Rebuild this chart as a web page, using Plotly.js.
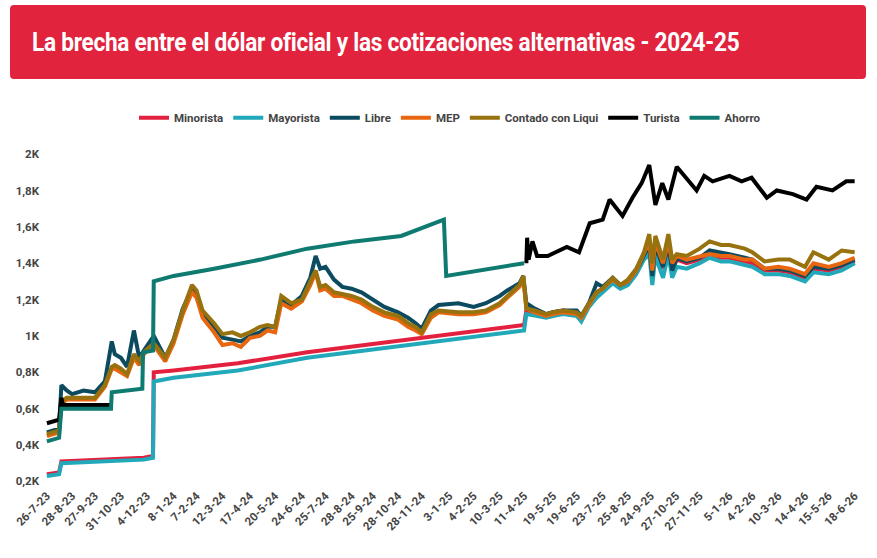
<!DOCTYPE html>
<html>
<head>
<meta charset="utf-8">
<script src="https://cdn.plot.ly/plotly-3.0.1.min.js"></script>
<style>
  body { margin: 0; background: #fff; }
  #banner {
    position: absolute; left: 10px; top: 5px; width: 856px; height: 74px;
    background: #e1233d; border-radius: 4px; z-index: 2;
    font-family: 'Roboto', sans-serif; font-weight: bold;
    color: #fff; font-size: 26px; line-height: 74px; padding-left: 22px; box-sizing: border-box;
    white-space: nowrap; overflow: hidden;
  }
  #banner span { display: inline-block; transform: scaleX(0.87); transform-origin: left center; letter-spacing: -0.3px; }
  #chart { position: absolute; left: 0; top: 0; width: 877px; height: 558px; }
</style>
</head>
<body>
<div id="chart"></div>
<div id="banner"><span>La brecha entre el dólar oficial y las cotizaciones alternativas - 2024-25</span></div>
<script>
// valores en miles de pesos

// Libre, MEP, Contado con Liqui
var fechasPar = ['2023-07-26','2023-08-11','2023-08-14','2023-08-21','2023-08-28','2023-09-12','2023-09-27','2023-10-10','2023-10-19','2023-10-23','2023-10-31','2023-11-08','2023-11-17','2023-11-24','2023-11-30','2023-12-13','2023-12-28',
  '2024-01-08','2024-01-20','2024-02-01','2024-02-07','2024-02-15','2024-03-01','2024-03-12','2024-03-25','2024-04-05','2024-04-17','2024-04-30','2024-05-10','2024-05-20','2024-05-28','2024-06-10','2024-06-24','2024-07-05','2024-07-12','2024-07-18','2024-07-25','2024-08-05','2024-08-16','2024-08-28','2024-09-10','2024-09-25','2024-10-10','2024-10-28','2024-11-10','2024-11-20','2024-11-28','2024-12-10','2024-12-20',
  '2025-01-15','2025-02-04','2025-02-20','2025-03-10','2025-03-20','2025-04-05','2025-04-10','2025-04-14','2025-04-25','2025-05-10','2025-05-19','2025-06-01','2025-06-19','2025-06-25','2025-07-05','2025-07-15','2025-07-23','2025-08-05','2025-08-15','2025-08-25','2025-09-05','2025-09-15','2025-09-22','2025-09-26','2025-09-30','2025-10-10','2025-10-17','2025-10-22','2025-10-28','2025-11-10','2025-11-27','2025-12-10','2025-12-25',
  '2026-01-05','2026-01-25','2026-02-04','2026-02-20','2026-03-10','2026-03-25','2026-04-14','2026-04-25','2026-05-15','2026-06-01','2026-06-18'];
var libre = [.47,.49,.73,.70,.68,.70,.69,.75,.97,.90,.88,.83,1.03,.88,.92,1.00,.88,
  .98,1.15,1.26,1.22,1.12,1.05,.99,.98,.97,1.00,1.02,1.05,1.05,1.20,1.17,1.22,1.32,1.44,1.37,1.38,1.31,1.27,1.26,1.24,1.20,1.16,1.13,1.10,1.07,1.04,1.14,1.17,
  1.18,1.16,1.18,1.22,1.25,1.29,1.33,1.18,1.15,1.12,1.13,1.14,1.14,1.11,1.18,1.29,1.27,1.32,1.28,1.30,1.36,1.45,1.50,1.33,1.50,1.38,1.50,1.36,1.43,1.41,1.43,1.47,1.46,
  1.45,1.43,1.42,1.37,1.37,1.36,1.33,1.38,1.37,1.39,1.42];
var mep = [.45,.47,.63,.65,.65,.65,.65,.72,.82,.82,.80,.78,.88,.84,.90,.95,.86,
  .96,1.12,1.24,1.21,1.10,1.02,.95,.96,.94,.99,1.00,1.03,1.02,1.18,1.15,1.19,1.28,1.35,1.25,1.26,1.22,1.22,1.20,1.18,1.14,1.11,1.09,1.05,1.03,1.01,1.10,1.13,
  1.12,1.12,1.13,1.17,1.21,1.27,1.32,1.15,1.13,1.11,1.12,1.13,1.12,1.10,1.17,1.24,1.26,1.31,1.28,1.30,1.36,1.45,1.52,1.36,1.52,1.40,1.52,1.40,1.44,1.42,1.44,1.45,1.44,
  1.44,1.42,1.42,1.37,1.38,1.37,1.34,1.40,1.38,1.40,1.43];
var ccl = [.46,.48,.64,.66,.66,.66,.66,.73,.83,.84,.82,.79,.90,.86,.91,.96,.88,
  .98,1.14,1.28,1.25,1.14,1.07,1.01,1.02,1.00,1.02,1.05,1.06,1.05,1.22,1.18,1.20,1.30,1.36,1.27,1.28,1.24,1.23,1.22,1.20,1.16,1.13,1.11,1.07,1.05,1.02,1.12,1.14,
  1.13,1.13,1.14,1.18,1.22,1.28,1.33,1.15,1.14,1.12,1.13,1.14,1.13,1.11,1.18,1.24,1.26,1.32,1.28,1.31,1.37,1.46,1.56,1.40,1.55,1.42,1.56,1.42,1.45,1.44,1.48,1.52,1.50,
  1.50,1.48,1.46,1.41,1.42,1.42,1.38,1.46,1.42,1.47,1.46];

// Minorista y Mayorista
var fechasOf = ['2023-07-26','2023-08-11','2023-08-14','2023-10-01','2023-11-30','2023-12-12','2023-12-13','2024-01-08','2024-04-01','2024-07-01','2024-10-01','2025-01-02','2025-04-11',
  '2025-04-14','2025-04-25','2025-05-10','2025-05-19','2025-06-01','2025-06-19','2025-06-25','2025-07-05','2025-07-15','2025-07-23','2025-08-05','2025-08-15','2025-08-25','2025-09-05','2025-09-15','2025-09-22','2025-09-26','2025-09-30','2025-10-10','2025-10-17','2025-10-22','2025-10-28','2025-11-10','2025-11-27','2025-12-10','2025-12-25',
  '2026-01-05','2026-01-25','2026-02-04','2026-02-20','2026-03-10','2026-03-25','2026-04-14','2026-04-25','2026-05-15','2026-06-01','2026-06-18'];
var minorista = [.24,.25,.31,.32,.33,.34,.80,.81,.85,.91,.96,1.01,1.06,
  1.14,1.13,1.12,1.13,1.14,1.13,1.10,1.18,1.23,1.26,1.31,1.28,1.30,1.36,1.44,1.48,1.33,1.47,1.37,1.48,1.36,1.42,1.40,1.42,1.45,1.43,
  1.43,1.41,1.40,1.36,1.36,1.35,1.32,1.37,1.36,1.38,1.41];
var mayorista = [.23,.24,.30,.31,.32,.33,.75,.77,.81,.88,.93,.98,1.03,
  1.12,1.11,1.10,1.11,1.12,1.11,1.08,1.16,1.21,1.24,1.29,1.26,1.28,1.34,1.42,1.45,1.28,1.44,1.32,1.45,1.32,1.38,1.37,1.40,1.43,1.41,
  1.41,1.39,1.38,1.34,1.34,1.33,1.30,1.35,1.34,1.36,1.40];

// Turista
var fechasTur = ['2023-07-26','2023-08-11','2023-08-14','2023-08-16','2023-10-17','2023-10-18',
  '2025-04-14','2025-04-15','2025-04-17','2025-04-22','2025-04-28','2025-05-12','2025-06-06','2025-06-22','2025-07-06','2025-07-23','2025-08-01','2025-08-18','2025-08-31','2025-09-12','2025-09-22','2025-09-30','2025-10-09','2025-10-17','2025-10-28','2025-11-07','2025-11-23','2025-12-03','2025-12-14',
  '2026-01-05','2026-01-21','2026-02-03','2026-02-23','2026-03-08','2026-03-29','2026-04-16','2026-04-29','2026-05-20','2026-06-07','2026-06-18'];
var turista = [.52,.54,.66,.62,.62,null,
  1.40,1.54,1.42,1.52,1.44,1.44,1.49,1.46,1.62,1.64,1.75,1.66,1.76,1.84,1.94,1.72,1.84,1.75,1.93,1.88,1.80,1.88,1.85,
  1.88,1.85,1.87,1.76,1.80,1.78,1.75,1.82,1.80,1.85,1.85];

// Ahorro
var fechasAho = ['2023-07-26','2023-08-11','2023-08-14','2023-10-18','2023-10-19','2023-11-28','2023-11-29','2023-12-12','2023-12-13','2024-01-08','2024-03-01','2024-05-01','2024-07-01','2024-09-01','2024-11-01','2024-12-27','2024-12-30','2025-02-15','2025-04-11'];
var ahorro = [.42,.44,.60,.60,.69,.71,.91,.92,1.30,1.33,1.37,1.42,1.48,1.52,1.55,1.64,1.33,1.36,1.40];

var tickFechas = ['2023-07-26','2023-08-28','2023-09-27','2023-10-31','2023-12-04','2024-01-08','2024-02-07','2024-03-12','2024-04-17','2024-05-20','2024-06-24','2024-07-25','2024-08-28','2024-09-25','2024-10-28','2024-11-28','2025-01-03','2025-02-04','2025-03-10','2025-04-11','2025-05-19','2025-06-19','2025-07-23','2025-08-25','2025-09-24','2025-10-27','2025-11-27','2026-01-05','2026-02-04','2026-03-10','2026-04-14','2026-05-15','2026-06-18'];
var tickTextos = ['26-7-23','28-8-23','27-9-23','31-10-23','4-12-23','8-1-24','7-2-24','12-3-24','17-4-24','20-5-24','24-6-24','25-7-24','28-8-24','25-9-24','28-10-24','28-11-24','3-1-25','4-2-25','10-3-25','11-4-25','19-5-25','19-6-25','23-7-25','25-8-25','24-9-25','27-10-25','27-11-25','5-1-26','4-2-26','10-3-26','14-4-26','15-5-26','18-6-26'];
var yTicks = [0.2,0.4,0.6,0.8,1,1.2,1.4,1.6,1.8,2];
var yTextos = ['0,2K','0,4K','0,6K','0,8K','1K','1,2K','1,4K','1,6K','1,8K','2K'];

function serie(name, x, y, color) {
  return {x: x, y: y, name: name, type: 'scatter', mode: 'lines',
    line: {color: color, width: 4}, connectgaps: false};
}

var data = [
  serie('Minorista', fechasOf, minorista, '#e3213f'),
  serie('Mayorista', fechasOf, mayorista, '#21a9b9'),
  serie('Libre', fechasPar, libre, '#0c4a5f'),
  serie('MEP', fechasPar, mep, '#e8660f'),
  serie('Contado con Liqui', fechasPar, ccl, '#98720e'),
  serie('Turista', fechasTur, turista, '#000000'),
  serie('Ahorro', fechasAho, ahorro, '#0e7a70')
];

var fuente = 'Roboto, sans-serif';
var layout = {
  width: 877, height: 558,
  margin: {t: 145, b: 72, l: 40, r: 17},
  paper_bgcolor: '#fff', plot_bgcolor: '#fff',
  font: {family: fuente, size: 12, color: '#444'},
  showlegend: true,
  legend: {orientation: 'h', x: 0.5, xanchor: 'center', y: 1.08, yanchor: 'middle',
    itemwidth: 30, tracegroupgap: 0,
    font: {family: fuente, size: 11.5, color: '#444', weight: 'bold'}},
  xaxis: {
    type: 'date', range: ['2023-07-17', '2026-06-25'],
    tickmode: 'array', tickvals: tickFechas, ticktext: tickTextos,
    tickangle: -45, showgrid: false, zeroline: false, showline: false,
    tickfont: {family: fuente, size: 11.5, color: '#444', weight: 'bold'}
  },
  yaxis: {
    range: [0.175, 2.05],
    tickmode: 'array', tickvals: yTicks, ticktext: yTextos,
    showgrid: false, zeroline: false, showline: false,
    tickfont: {family: fuente, size: 11.5, color: '#444', weight: 'bold'}
  }
};

Plotly.newPlot('chart', data, layout, {displayModeBar: false, responsive: false});
</script>
</body>
</html>
